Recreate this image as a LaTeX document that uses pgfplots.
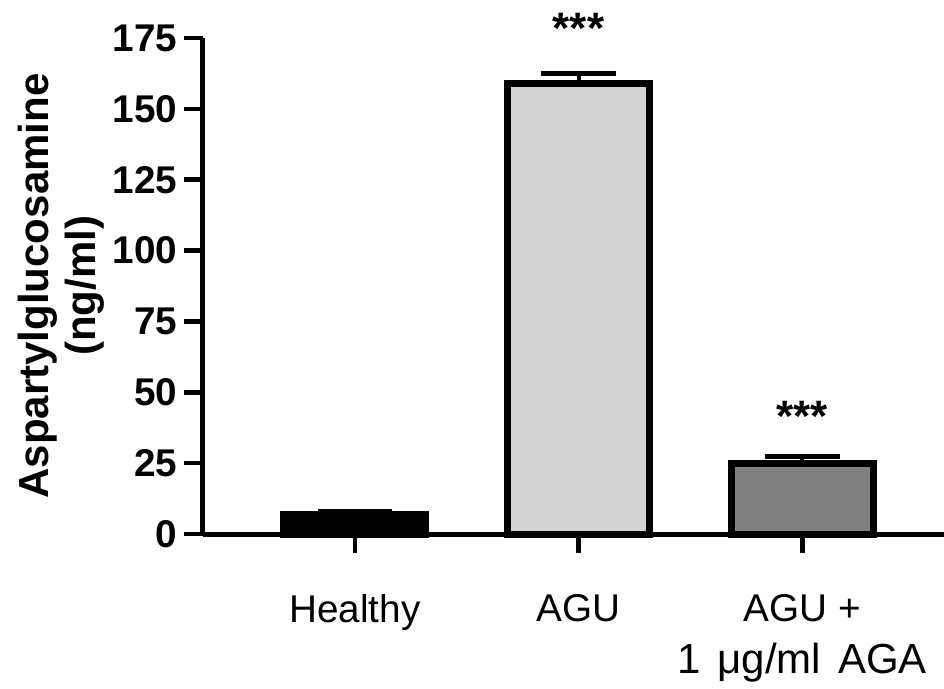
\documentclass[border=0pt]{standalone}
\usepackage{pgfplots}
\pgfplotsset{compat=1.18}
\usepackage{fontspec}
\setmainfont{Liberation Sans}
\definecolor{barlight}{RGB}{211,211,211}
\definecolor{bardark}{RGB}{128,128,128}
\begin{document}
\begin{tikzpicture}
\path[use as bounding box] (-152.25pt,-115.5pt) rectangle (555.75pt,400.5pt);
\begin{axis}[
  at={(0,0)}, anchor=south west,
  scale only axis, width=555.75pt, height=372pt,
  xmin=-0.679, xmax=2.634, ymin=0, ymax=175,
  axis x line=bottom, axis y line=left,
  axis line style={-, line width=3.75pt},
  ytick={0,25,...,175},
  xtick={0,1,2},
  xticklabels={Healthy, AGU, {AGU +\\{\fontsize{31.5}{39}\selectfont 1\hspace{0.4em}μg/ml\hspace{0.4em}AGA}}},
  tick align=outside, major tick length=14pt,
  tick style={line width=3.5pt, black},
  /pgf/number format/assume math mode=true,
  yticklabel style={font=\bfseries\fontsize{29}{29}\selectfont, inner sep=0pt},
  yticklabel shift=5pt,
  xticklabel style={font=\fontsize{29}{39}\selectfont, align=center, inner sep=0pt},
  xticklabel shift=31pt,
  ylabel={Aspartylglucosamine\\(ng/ml)},
  every axis y label/.style={at={(rel axis cs:0,0.5)}, xshift=-74pt, rotate=90, anchor=south, inner sep=0pt, align=center, font=\bfseries\fontsize{31.5}{35}\selectfont},
  ybar, bar width=106.5pt,
  clip=false,
]
\addplot[bar shift=0pt, fill=black, draw=black, line width=5.25pt,
  error bars/.cd, y dir=plus, y explicit,
  error bar style={line width=3pt, black},
  error mark options={rotate=90, line width=3.75pt, mark size=28pt, black}]
  coordinates {(0,6.8) +- (0,1.3)};
\addplot[bar shift=0pt, fill=barlight, draw=black, line width=5.25pt,
  error bars/.cd, y dir=plus, y explicit,
  error bar style={line width=3pt, black},
  error mark options={rotate=90, line width=3.75pt, mark size=28pt, black}]
  coordinates {(1,158.9) +- (0,3.6)};
\addplot[bar shift=0pt, fill=bardark, draw=black, line width=5.25pt,
  error bars/.cd, y dir=plus, y explicit,
  error bar style={line width=3pt, black},
  error mark options={rotate=90, line width=3.75pt, mark size=28pt, black}]
  coordinates {(2,24.9) +- (0,2.4)};
\node[anchor=base, inner sep=0pt, font=\bfseries\fontsize{33}{33}\selectfont] at (axis cs:1,172.9) {***};
\node[anchor=base, inner sep=0pt, font=\bfseries\fontsize{33}{33}\selectfont] at (axis cs:2,36.3) {***};
\end{axis}
\end{tikzpicture}
\end{document}
